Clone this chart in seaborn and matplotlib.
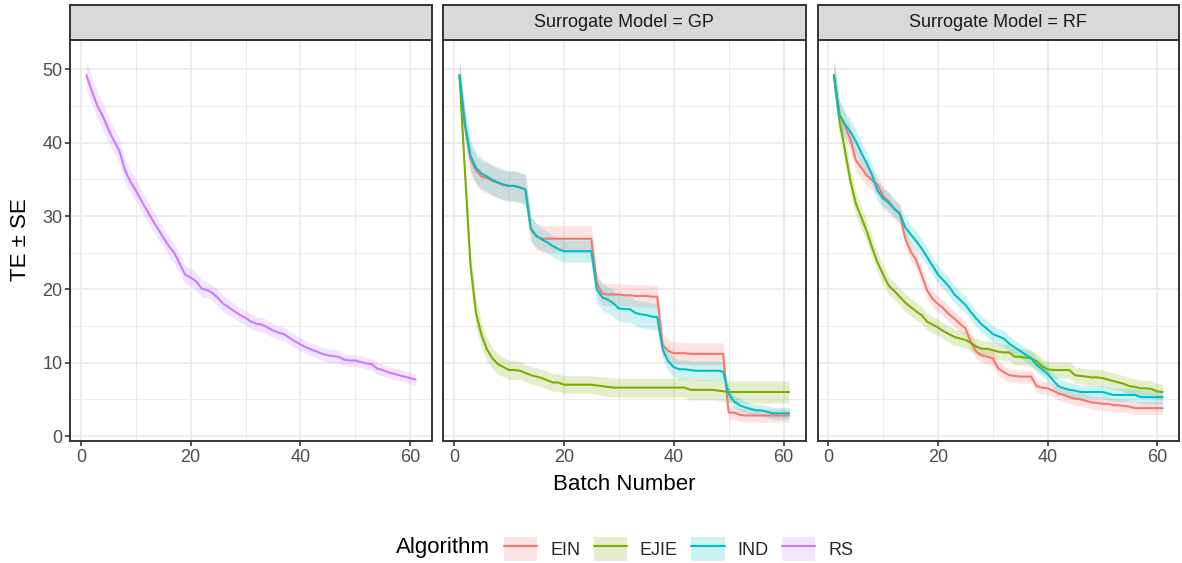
import numpy as np
import pandas as pd
import matplotlib
matplotlib.use("Agg")
import matplotlib.pyplot as plt
from matplotlib.patches import Patch, Rectangle
from matplotlib.lines import Line2D
import seaborn as sns

sns.set_theme(style="white")
plt.rcParams["font.family"] = ["Liberation Sans", "DejaVu Sans"]

# ---------------------------------------------------------------- data
batches = list(range(1, 62))
algorithms = ["EIN", "EJIE", "IND", "RS"]
palette = {"EIN": "#F8766D", "EJIE": "#7CAE00", "IND": "#00BFC4", "RS": "#C77CFF"}
panel_titles = ["", "Surrogate Model = GP", "Surrogate Model = RF"]

rs_te = [49.2, 47.0, 45.0, 43.6, 41.8, 40.3, 38.9, 36.3, 34.7, 33.5,
         32.1, 30.8, 29.5, 28.3, 27.1, 25.9, 25.0, 23.5, 22.0, 21.6,
         21.1, 20.1, 19.9, 19.5, 18.8, 18.0, 17.5, 17.0, 16.5, 16.1,
         15.6, 15.3, 15.2, 14.8, 14.4, 14.1, 13.9, 13.4, 12.9, 12.5,
         12.1, 11.8, 11.5, 11.2, 11.0, 10.9, 10.8, 10.4, 10.3, 10.3,
         10.1, 9.9, 9.8, 9.2, 9.0, 8.7, 8.5, 8.3, 8.1, 7.9, 7.7]
rs_se = [2.0, 1.9, 1.8, 1.8, 1.7, 1.7, 1.6, 1.6, 1.5, 1.5,
         1.5, 1.4, 1.4, 1.4, 1.3, 1.3, 1.3, 1.3, 1.2, 1.2,
         1.2, 1.2, 1.1, 1.1, 1.1, 1.1, 1.1, 1.0, 1.0, 1.0,
         1.0, 1.0, 1.0, 1.0, 1.0, 0.9, 0.9, 0.9, 0.9, 0.9,
         0.9, 0.9, 0.9, 0.9, 0.9, 0.9, 0.9, 0.8, 0.8, 0.8,
         0.8, 0.8, 0.8, 0.8, 0.8, 0.8, 0.8, 0.8, 0.8, 0.8, 0.8]

gp_ein_te = [49.2, 42.3, 37.8, 36.2, 35.4, 35.2, 34.8, 34.5, 34.2, 34.1,
             34.1, 33.9, 33.6, 28.2, 27.2, 26.9, 26.9, 26.9, 26.9, 26.9,
             26.9, 26.9, 26.9, 26.9, 26.9, 20.9, 19.4, 19.3, 19.3, 19.3,
             19.2, 19.2, 19.1, 19.1, 19.1, 19.0, 19.0, 12.4, 11.6, 11.3,
             11.3, 11.3, 11.2, 11.2, 11.2, 11.2, 11.2, 11.2, 11.2, 3.2,
             3.2, 2.9, 2.8, 2.8, 2.8, 2.8, 2.8, 2.8, 2.8, 2.8, 2.8]
gp_ein_se = [2.0, 2.0, 2.0, 2.0, 2.0, 2.0, 2.0, 2.0, 2.0, 2.0,
             2.0, 2.0, 2.0, 1.8, 1.8, 1.8, 1.8, 1.8, 1.8, 1.8,
             1.8, 1.8, 1.8, 1.8, 1.8, 1.5, 1.5, 1.5, 1.5, 1.5,
             1.5, 1.5, 1.5, 1.5, 1.5, 1.5, 1.5, 1.5, 1.5, 1.5,
             1.5, 1.5, 1.5, 1.5, 1.5, 1.5, 1.5, 1.5, 1.5, 0.9,
             0.9, 0.9, 0.9, 0.9, 0.9, 0.9, 0.9, 0.9, 0.9, 0.9, 0.9]

gp_ejie_te = [49.2, 36.0, 23.3, 16.8, 13.8, 11.8, 10.6, 9.8, 9.4, 9.0,
              9.0, 8.9, 8.6, 8.3, 8.1, 7.9, 7.6, 7.3, 7.3, 7.0,
              7.0, 7.0, 7.0, 7.0, 7.0, 6.9, 6.8, 6.7, 6.6, 6.6,
              6.6, 6.6, 6.6, 6.6, 6.6, 6.6, 6.6, 6.6, 6.6, 6.6,
              6.6, 6.6, 6.3, 6.3, 6.3, 6.3, 6.3, 6.2, 6.1, 6.0,
              6.0, 6.0, 6.0, 6.0, 6.0, 6.0, 6.0, 6.0, 6.0, 6.0, 6.0]
gp_ejie_se = [2.0, 2.0, 2.0, 1.9, 1.8, 1.6, 1.5, 1.4, 1.3, 1.3,
              1.3, 1.2, 1.2, 1.2, 1.2, 1.2, 1.2, 1.2, 1.2, 1.2,
              1.2, 1.2, 1.2, 1.2, 1.2, 1.2, 1.3, 1.3, 1.3, 1.3,
              1.3, 1.3, 1.3, 1.3, 1.3, 1.3, 1.3, 1.3, 1.3, 1.3,
              1.3, 1.3, 1.4, 1.4, 1.4, 1.4, 1.4, 1.4, 1.4, 1.5,
              1.5, 1.5, 1.5, 1.5, 1.5, 1.5, 1.5, 1.5, 1.5, 1.5, 1.5]

gp_ind_te = [49.2, 42.5, 38.2, 36.6, 35.8, 35.4, 34.9, 34.6, 34.3, 34.1,
             34.1, 33.9, 33.6, 28.3, 27.3, 26.8, 26.4, 25.9, 25.5, 25.2,
             25.2, 25.2, 25.2, 25.2, 25.2, 20.0, 18.9, 18.6, 18.1, 17.4,
             17.3, 17.3, 16.8, 16.6, 16.5, 16.3, 16.2, 11.8, 10.2, 9.4,
             9.1, 9.1, 9.0, 8.9, 8.9, 8.9, 8.9, 8.9, 8.8, 5.8,
             4.7, 4.2, 3.9, 3.7, 3.5, 3.5, 3.3, 3.1, 3.1, 3.1, 3.1]
gp_ind_se = [2.0, 2.1, 2.1, 2.1, 2.1, 2.1, 2.1, 2.1, 2.1, 2.1,
             2.1, 2.1, 2.1, 1.6, 1.6, 1.5, 1.5, 1.5, 1.5, 1.5,
             1.5, 1.5, 1.5, 1.5, 1.5, 1.8, 1.8, 1.8, 1.8, 1.8,
             1.8, 1.8, 1.8, 1.8, 1.8, 1.8, 1.8, 1.3, 1.3, 1.3,
             1.3, 1.3, 1.3, 1.3, 1.3, 1.3, 1.3, 1.3, 1.3, 1.0,
             0.9, 0.9, 0.8, 0.8, 0.8, 0.8, 0.8, 0.8, 0.8, 0.8, 0.8]

rf_ein_te = [49.2, 43.8, 42.3, 40.5, 37.6, 36.6, 35.5, 34.9, 34.2, 32.7,
             32.0, 31.0, 30.4, 27.0, 25.2, 24.0, 22.0, 19.9, 18.7, 18.0,
             17.4, 16.6, 16.0, 15.3, 14.7, 12.8, 11.5, 11.0, 10.8, 10.6,
             9.2, 8.7, 8.3, 8.2, 8.1, 8.1, 8.1, 6.8, 6.6, 6.5,
             6.2, 5.8, 5.6, 5.3, 5.1, 5.0, 4.8, 4.6, 4.5, 4.4,
             4.4, 4.2, 4.2, 4.1, 4.0, 3.8, 3.8, 3.8, 3.8, 3.8, 3.8]
rf_ein_se = [2.0, 1.9, 1.8, 1.7, 1.6, 1.5, 1.4, 1.4, 1.3, 1.3,
             1.3, 1.2, 1.2, 1.2, 1.2, 1.2, 1.1, 1.1, 1.1, 1.1,
             1.1, 1.1, 1.1, 1.0, 1.0, 1.0, 1.0, 1.0, 1.0, 1.0,
             1.0, 1.0, 0.9, 0.9, 0.9, 0.9, 0.9, 0.9, 0.9, 0.9,
             0.9, 0.9, 0.9, 0.9, 0.9, 0.9, 0.9, 0.9, 0.9, 0.9,
             0.9, 0.9, 0.9, 0.9, 0.9, 0.9, 0.9, 0.9, 0.9, 0.9, 0.9]

rf_ejie_te = [49.2, 43.0, 39.0, 34.8, 31.7, 29.8, 27.9, 25.6, 23.6, 22.0,
              20.5, 19.8, 19.0, 18.2, 17.6, 17.0, 16.5, 15.6, 15.2, 14.8,
              14.3, 13.9, 13.5, 13.3, 13.1, 12.7, 12.2, 11.9, 11.9, 11.7,
              11.5, 11.4, 11.4, 10.8, 10.8, 10.7, 10.6, 10.2, 9.5, 9.1,
              9.0, 9.0, 9.0, 9.0, 8.3, 8.2, 8.1, 8.0, 8.0, 7.9,
              7.7, 7.5, 7.3, 7.1, 6.8, 6.7, 6.5, 6.5, 6.4, 6.1, 6.0]
rf_ejie_se = [2.0, 1.9, 1.8, 1.7, 1.6, 1.5, 1.4, 1.4, 1.3, 1.3,
              1.2, 1.2, 1.2, 1.2, 1.2, 1.2, 1.1, 1.1, 1.1, 1.1,
              1.1, 1.1, 1.1, 1.1, 1.1, 1.1, 1.1, 1.1, 1.1, 1.1,
              1.1, 1.1, 1.1, 1.1, 1.1, 1.1, 1.1, 1.1, 1.1, 1.1,
              1.1, 1.1, 1.1, 1.1, 1.1, 1.1, 1.1, 1.1, 1.1, 1.1,
              1.1, 1.1, 1.1, 1.1, 1.1, 1.1, 1.1, 1.1, 1.1, 1.1, 1.1]

rf_ind_te = [49.2, 43.8, 42.5, 41.5, 40.2, 38.6, 37.2, 35.5, 33.4, 32.4,
             31.8, 31.0, 30.3, 28.5, 27.5, 26.6, 25.6, 24.4, 23.2, 22.0,
             21.2, 20.4, 19.3, 18.6, 17.9, 16.9, 16.0, 15.2, 14.6, 13.9,
             13.6, 13.3, 12.6, 12.1, 11.6, 11.1, 10.6, 9.7, 9.1, 8.5,
             7.6, 6.8, 6.5, 6.3, 6.2, 6.0, 6.0, 6.0, 6.0, 6.0,
             5.8, 5.6, 5.6, 5.6, 5.6, 5.6, 5.3, 5.3, 5.3, 5.3, 5.3]
rf_ind_se = [2.0, 1.9, 1.8, 1.7, 1.6, 1.5, 1.5, 1.4, 1.4, 1.4,
             1.4, 1.3, 1.3, 1.3, 1.3, 1.3, 1.3, 1.2, 1.2, 1.2,
             1.2, 1.2, 1.2, 1.2, 1.1, 1.1, 1.1, 1.1, 1.1, 1.1,
             1.1, 1.1, 1.1, 1.0, 1.0, 1.0, 1.0, 1.0, 1.0, 1.0,
             1.0, 1.0, 1.0, 1.0, 0.9, 0.9, 0.9, 0.9, 0.9, 0.9,
             0.9, 0.9, 0.9, 0.9, 0.9, 0.9, 0.9, 0.9, 0.9, 0.9, 0.9]

# panel -> list of (algorithm, mean, se)
panels = [
    [("RS", rs_te, rs_se)],
    [("EIN", gp_ein_te, gp_ein_se), ("EJIE", gp_ejie_te, gp_ejie_se),
     ("IND", gp_ind_te, gp_ind_se)],
    [("EIN", rf_ein_te, rf_ein_se), ("EJIE", rf_ejie_te, rf_ejie_se),
     ("IND", rf_ind_te, rf_ind_se)],
]

# ---------------------------------------------------------------- layout
W, H = 1182, 563
fig = plt.figure(figsize=(W / 100, H / 100), dpi=100)
fig.patch.set_facecolor("white")


def frac_rect(x0, y0, x1, y1):
    return [x0 / W, 1 - y1 / H, (x1 - x0) / W, (y1 - y0) / H]


panel_x = [(70, 432), (443, 805.5), (817.5, 1179)]
strip_top, panel_top, panel_bottom = 5, 40, 441

dark = "#333333"
grid_col = "#EBEBEB"

for i, (px0, px1) in enumerate(panel_x):
    ax = fig.add_axes(frac_rect(px0, panel_top, px1, panel_bottom))
    rows = []
    for alg, te, se in panels[i]:
        for b, m, s in zip(batches, te, se):
            rows.append({"Batch Number": b, "TE": m, "lo": m - s, "hi": m + s,
                         "Algorithm": alg})
    df = pd.DataFrame(rows)

    for alg, sub in df.groupby("Algorithm", sort=False):
        ax.fill_between(sub["Batch Number"], sub["lo"], sub["hi"],
                        color=palette[alg], alpha=0.2, linewidth=0, zorder=2)
    sns.lineplot(data=df, x="Batch Number", y="TE", hue="Algorithm",
                 palette=palette, linewidth=1.5, ax=ax, legend=False,
                 errorbar=None, zorder=3)

    ax.set_xlim(-2, 64)
    ax.set_ylim(-0.68, 54.0)
    ax.set_xticks([0, 20, 40, 60])
    ax.set_xticks([10, 30, 50], minor=True)
    ax.set_yticks([0, 10, 20, 30, 40, 50])
    ax.set_yticks([5, 15, 25, 35, 45], minor=True)
    ax.grid(True, which="major", color=grid_col, linewidth=1.3, zorder=0)
    ax.grid(True, which="minor", color=grid_col, linewidth=0.65, zorder=0)
    ax.set_axisbelow(True)
    for sp in ax.spines.values():
        sp.set_color(dark)
        sp.set_linewidth(1.4)
    ax.set_xlabel("")
    ax.set_ylabel("")
    ax.tick_params(axis="x", which="major", length=3.5, width=1.2,
                   color=dark, labelsize=13, labelcolor="#4D4D4D", pad=2,
                   bottom=True)
    ax.tick_params(which="minor", length=0)
    if i == 0:
        ax.tick_params(axis="y", which="major", length=3.5, width=1.2,
                       color=dark, labelsize=13, labelcolor="#4D4D4D", pad=2,
                       left=True)
    else:
        ax.tick_params(axis="y", which="major", left=False, labelleft=False)

    # facet strip
    sax = fig.add_axes(frac_rect(px0, strip_top, px1, panel_top))
    sax.set_facecolor("#D9D9D9")
    sax.set_xticks([])
    sax.set_yticks([])
    for sp in sax.spines.values():
        sp.set_color(dark)
        sp.set_linewidth(1.4)
    sax.text(0.5, 0.5, panel_titles[i], ha="center", va="center",
             fontsize=13, color="#1A1A1A", transform=sax.transAxes)

# axis titles
fig.text(624 / W, 1 - 484 / H, "Batch Number", ha="center", va="center",
         fontsize=16, color="black")
fig.text(20 / W, 1 - 240 / H, "TE \u00b1 SE", ha="center", va="center",
         rotation=90, fontsize=16, color="black")

# legend
fig.text(396 / W, 1 - 548 / H, "Algorithm", ha="left", va="center",
         fontsize=16, color="black")
handles = [(Patch(facecolor=palette[a], alpha=0.2, edgecolor="none"),
            Line2D([], [], color=palette[a], linewidth=1.5)) for a in algorithms]
fig.legend(handles=handles, labels=algorithms, ncol=4, loc="center left",
           bbox_to_anchor=(504 / W, 1 - 549 / H), frameon=False, fontsize=13,
           handlelength=1.85, handleheight=1.7, handletextpad=0.7,
           columnspacing=0.75, borderpad=0, borderaxespad=0)

fig.savefig("out.png", dpi=100, facecolor="white")
